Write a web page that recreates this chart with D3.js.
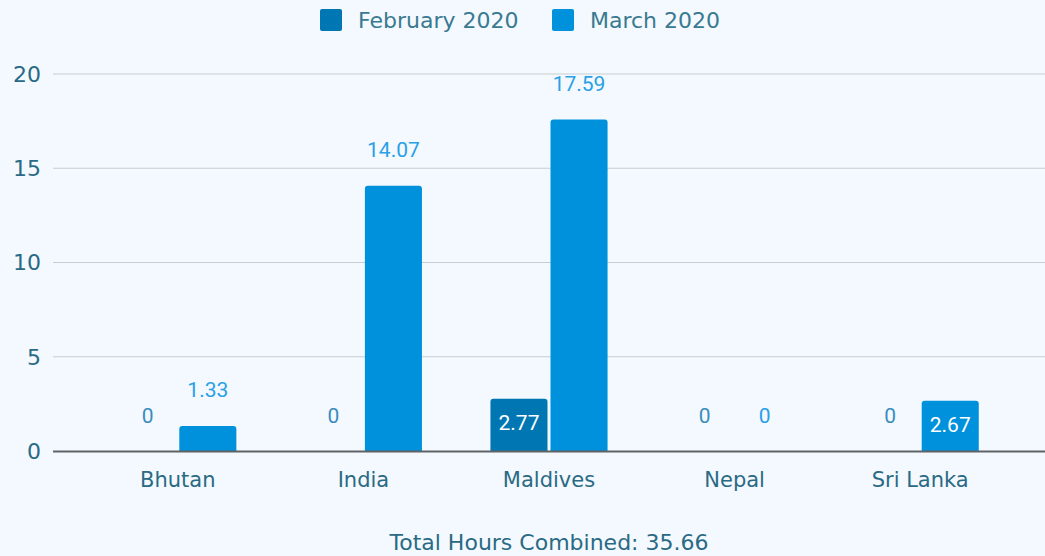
<!DOCTYPE html>
<html>
<head>
<meta charset="utf-8">
<script src="https://cdn.jsdelivr.net/npm/d3@7"></script>
<style>
  body { margin: 0; background: #f3f9fe; }
  svg { display: block; font-family: "DejaVu Sans", Verdana, sans-serif; }
</style>
</head>
<body>
<script>
var width = 1045;
var height = 556;
var countries = ['Bhutan', 'India', 'Maldives', 'Nepal', 'Sri Lanka'];
var seriesNames = ['February 2020', 'March 2020'];
var february = [0, 0, 2.77, 0, 0];
var march = [1.33, 14.07, 17.59, 0, 2.67];
var yTicks = [0, 5, 10, 15, 20];
var colors = ['#0076b3', '#0091dc'];
var labelColors = ['#3a8dbd', '#2aa0e6'];

var series = [february, march];
// the footer total counts the latest month only
var total = d3.sum(march);

var x = d3.scaleBand().domain(countries).range([85, 1013]);
var xs = d3.scaleBand().domain([0, 1]).range([0, x.bandwidth()]).paddingInner(0.05).paddingOuter(0.57);
var y = d3.scaleLinear().domain([0, 20]).range([451, 74]);

var svg = d3.select('body').append('svg').attr('width', width).attr('height', height);

svg.append('g').selectAll('line').data(yTicks.filter(function (d) { return d > 0; })).enter().append('line')
  .attr('x1', 53).attr('x2', width).attr('y1', y).attr('y2', y)
  .attr('stroke', '#c8cdd0').attr('stroke-width', 1);

svg.append('g').selectAll('text').data(yTicks).enter().append('text')
  .attr('x', 41).attr('y', y).attr('dy', '.36em').attr('text-anchor', 'end')
  .attr('fill', '#2a6a84').style('font-size', '22px').text(String);

var rows = [];
countries.forEach(function (c, i) {
  series.forEach(function (s, j) { rows.push({ country: c, s: j, value: s[i] }); });
});

function barPath(d) {
  var x0 = x(d.country) + xs(d.s), w = xs.bandwidth(), y0 = y(0), y1 = y(d.value), r = Math.min(3, (y0 - y1) / 2);
  if (y0 - y1 <= 0) return '';
  return 'M' + x0 + ',' + y0 + 'V' + (y1 + r) + 'Q' + x0 + ',' + y1 + ' ' + (x0 + r) + ',' + y1 +
    'H' + (x0 + w - r) + 'Q' + (x0 + w) + ',' + y1 + ' ' + (x0 + w) + ',' + (y1 + r) + 'V' + y0 + 'Z';
}

svg.append('g').selectAll('path').data(rows).enter().append('path')
  .attr('d', barPath).attr('fill', function (d) { return colors[d.s]; });

svg.append('line').attr('x1', 53).attr('x2', width).attr('y1', y(0) + 0.5).attr('y2', y(0) + 0.5)
  .attr('stroke', '#5f6366').attr('stroke-width', 2);

function inside(d) { return d.value > 2 && d.value < 5; }

svg.append('g').selectAll('text').data(rows).enter().append('text')
  .attr('x', function (d) { return x(d.country) + xs(d.s) + xs.bandwidth() / 2; })
  .attr('y', function (d) { return inside(d) ? y(d.value) + 24 : y(d.value) - 36; })
  .attr('dy', '.36em').attr('text-anchor', 'middle')
  .style('font-family', 'Roboto, sans-serif').style('font-size', '21px')
  .attr('fill', function (d) { return inside(d) ? '#ffffff' : labelColors[d.s]; })
  .text(function (d) { return d.value; });

svg.append('g').selectAll('text').data(countries).enter().append('text')
  .attr('x', function (d) { return x(d) + x.bandwidth() / 2; }).attr('y', 479).attr('dy', '.36em')
  .attr('text-anchor', 'middle').attr('fill', '#2a6a84').style('font-size', '21px').text(String);

var legendX = [320, 552];
var legend = svg.append('g').selectAll('g').data(seriesNames).enter().append('g')
  .attr('transform', function (d, i) { return 'translate(' + legendX[i] + ',9)'; });
legend.append('rect').attr('width', 22).attr('height', 22).attr('rx', 2).attr('fill', function (d, i) { return colors[i]; });
legend.append('text').attr('x', 38).attr('y', 11).attr('dy', '.36em').attr('fill', '#3a7a90')
  .style('font-size', '22px').text(String);

svg.append('text').attr('x', 549).attr('y', 542).attr('dy', '.36em').attr('text-anchor', 'middle')
  .attr('fill', '#2a6a84').style('font-size', '22px').text('Total Hours Combined: ' + total.toFixed(2));
</script>
</body>
</html>
